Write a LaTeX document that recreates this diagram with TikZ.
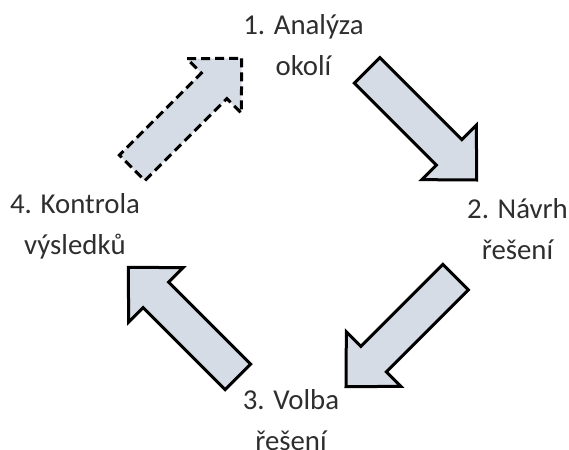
\documentclass[tikz,border=0pt]{standalone}
\usepackage{fontspec}
\setmainfont{Carlito}
\definecolor{arrowfill}{HTML}{D6DCE5}
\definecolor{labeltext}{HTML}{2E2E2E}
\begin{document}
\begin{tikzpicture}[x=0.5pt,y=-0.5pt,
  arrowlook/.style={draw=black, fill=arrowfill, line width=1.5pt, line join=miter},
  dashedlook/.style={arrowlook, dash pattern=on 4.5pt off 2.5pt},
  steplabel/.style={font=\fontsize{14.4}{20.5}\selectfont, text=labeltext,
    align=center, anchor=base, inner sep=0pt},
  % block arrow with its tip at the origin, pointing along +x
  pics/blockarrow/.style={code={
    \path[pic actions] (0,0) -- (-39,38.5) -- (-39,18) -- (-155,18)
      -- (-155,-18) -- (-39,-18) -- (-39,-38.5) -- cycle;}}]
\useasboundingbox (0,0) rectangle (569,450);

% step labels (anchored at the baseline of their last line)
\node[steplabel] (s1) at (303.5,75.5) {1. Analýza\\okolí};
\node[steplabel] (s2) at (517.5,259.5) {2. Návrh\\řešení};
\node[steplabel] (s3) at (291,450) {3. Volba\\řešení};
\node[steplabel] (s4) at (75,254) {4. Kontrola\\výsledků};

% arrow tips
\coordinate (tip12) at (476.7,180);
\coordinate (tip23) at (346,386.7);
\coordinate (tip34) at (128.3,267.3);
\coordinate (tip41) at (241.7,58.3);

% cycle arrows
\pic[arrowlook, rotate=-45] at (tip12) {blockarrow};
\pic[arrowlook, rotate=-135] at (tip23) {blockarrow};
\pic[arrowlook, rotate=135] at (tip34) {blockarrow};
\pic[dashedlook, rotate=45] at (tip41) {blockarrow};
\end{tikzpicture}
\end{document}
